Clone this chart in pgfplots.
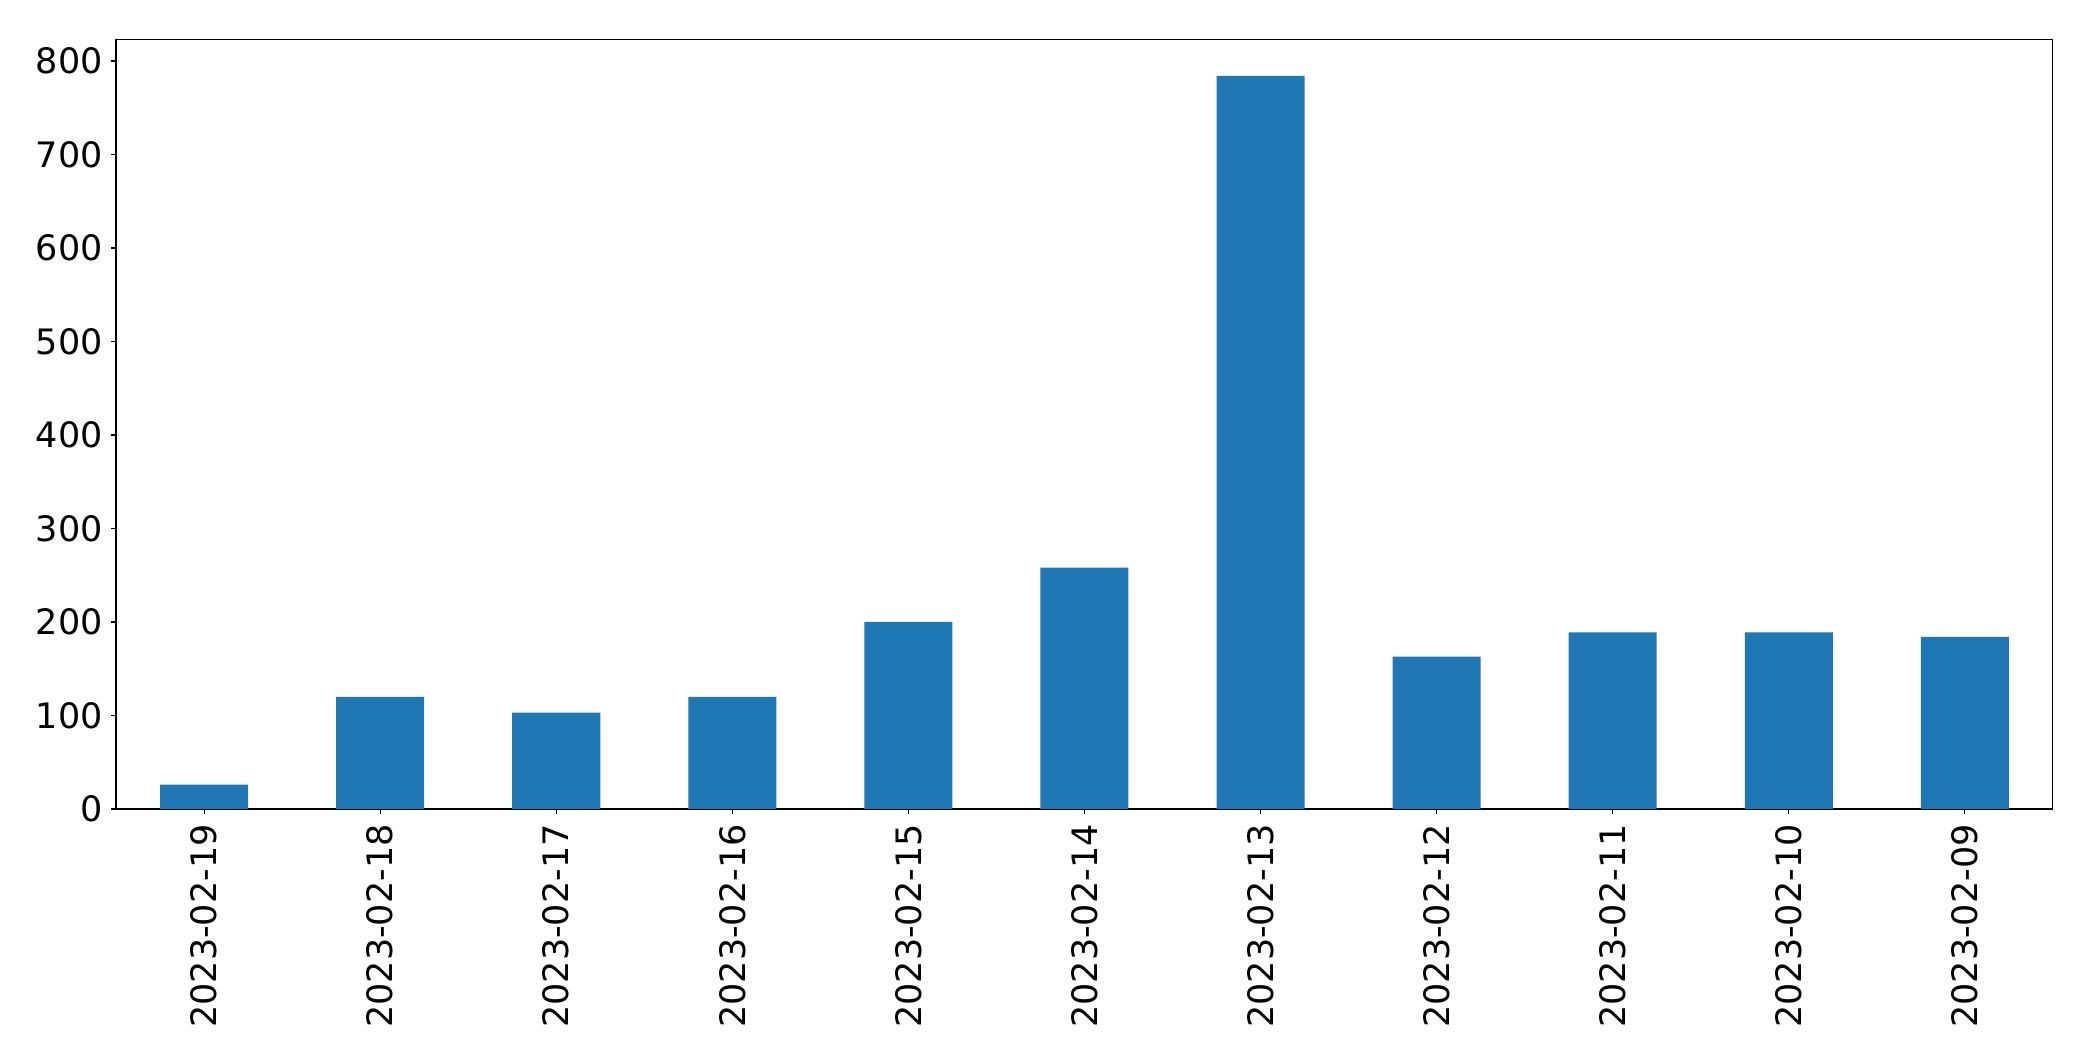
\documentclass[border=0pt]{standalone}
\usepackage{pgfplots}
\pgfplotsset{compat=1.18}
\usepackage{fontspec}
\setmainfont{DejaVu Sans}
\definecolor{mplblue}{HTML}{1F77B4}
\begin{document}
\begin{tikzpicture}
\begin{axis}[
  scale only axis,
  width=968.5pt, height=384.85pt,
  xmin=-0.5, xmax=10.5,
  ymin=0, ymax=823.2,
  axis line style={line width=0.55pt},
  tick style={line width=0.55pt, black},
  tick align=outside,
  major tick length=2.5pt,
  xtick={0,1,2,3,4,5,6,7,8,9,10},
  xticklabels={2023-02-19,2023-02-18,2023-02-17,2023-02-16,2023-02-15,2023-02-14,2023-02-13,2023-02-12,2023-02-11,2023-02-10,2023-02-09},
  ytick={0,100,200,300,400,500,600,700,800},
  xtick pos=bottom, ytick pos=left,
  /pgf/number format/assume math mode=true,
  ticklabel style={font=\fontsize{17.5}{20}\selectfont},
  xticklabel style={rotate=90, anchor=east, inner sep=0pt, xshift=-5pt},
  yticklabel style={inner sep=0pt, xshift=-4pt},
  clip=false,
]
\addplot[ybar, bar width=0.5, fill=mplblue, draw=none, bar shift=0pt] coordinates {
(0,26) (1,120) (2,103) (3,120) (4,200) (5,258) (6,784) (7,163) (8,189) (9,189) (10,184)
};
\path[draw=none] (rel axis cs:-0.0599,-0.3274) rectangle (rel axis cs:1.0207,1.0511);
\end{axis}
\end{tikzpicture}
\end{document}
